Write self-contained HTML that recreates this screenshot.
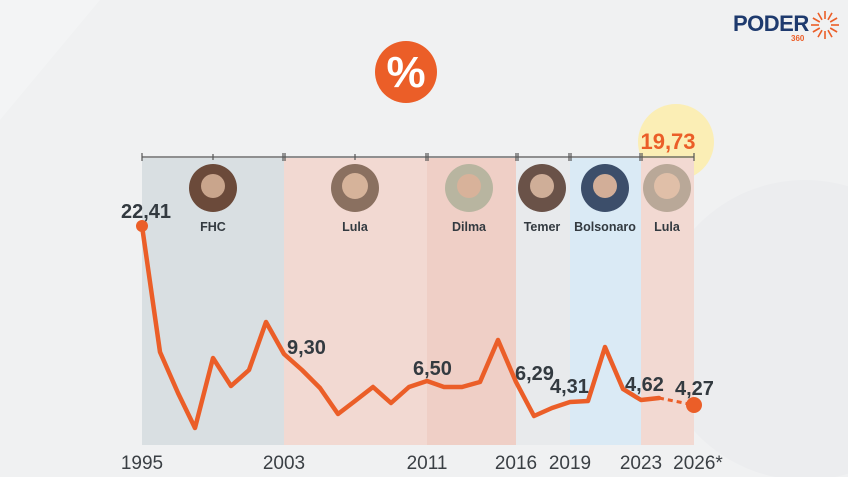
<!DOCTYPE html>
<html><head><meta charset="utf-8">
<style>
html,body{margin:0;padding:0;background:#f0f1f2;}
svg{display:block;font-family:"Liberation Sans",sans-serif;}
</style></head><body>
<svg width="848" height="477" viewBox="0 0 848 477" xmlns="http://www.w3.org/2000/svg">
<rect width="848" height="477" fill="#f0f1f2"/>
<!-- faint background shapes -->
<circle cx="805" cy="330" r="150" fill="#ecedef"/>
<path d="M0 0 L100 0 L0 120Z" fill="#f3f4f5"/>
<!-- logo -->
<text x="733" y="31" font-size="22" font-weight="bold" fill="#1e3a6e" letter-spacing="-0.5">PODER</text>
<text x="791" y="41" font-size="8" font-weight="bold" fill="#eb5e28">360</text>
<g transform="translate(825,25)" stroke="#eb5e28" stroke-width="1.6">
<line x1="6" y1="0" x2="14" y2="0"/><line x1="5.2" y1="3" x2="12.1" y2="7"/><line x1="3" y1="5.2" x2="7" y2="12.1"/>
<line x1="0" y1="6" x2="0" y2="14"/><line x1="-3" y1="5.2" x2="-7" y2="12.1"/><line x1="-5.2" y1="3" x2="-12.1" y2="7"/>
<line x1="-6" y1="0" x2="-14" y2="0"/><line x1="-5.2" y1="-3" x2="-12.1" y2="-7"/><line x1="-3" y1="-5.2" x2="-7" y2="-12.1"/>
<line x1="0" y1="-6" x2="0" y2="-14"/><line x1="3" y1="-5.2" x2="7" y2="-12.1"/><line x1="5.2" y1="-3" x2="12.1" y2="-7"/>
</g>
<!-- % circle -->
<circle cx="406" cy="72" r="31" fill="#eb5e28"/>
<text x="406" y="87" font-size="44" font-weight="bold" fill="#fff" text-anchor="middle">%</text>
<!-- yellow highlight -->
<circle cx="676" cy="142" r="38" fill="#fbeeb5"/>
<!-- bands -->
<rect x="142" y="158" width="142" height="287" fill="#d9dfe2"/>
<rect x="284" y="158" width="143" height="287" fill="#f2d9d2"/>
<rect x="427" y="158" width="89" height="287" fill="#efcfc6"/>
<rect x="516" y="158" width="54" height="287" fill="#e8eaec"/>
<rect x="570" y="158" width="71" height="287" fill="#daeaf5"/>
<rect x="641" y="158" width="53" height="287" fill="#f2d9d2"/>
<!-- top bar -->
<g stroke="#555" stroke-width="1.2">
<line x1="142" y1="157" x2="694" y2="157"/>
<line x1="142" y1="153" x2="142" y2="161"/><line x1="213" y1="154" x2="213" y2="160"/>
<line x1="283" y1="153" x2="283" y2="161"/><line x1="285" y1="153" x2="285" y2="161"/>
<line x1="355" y1="154" x2="355" y2="160"/>
<line x1="426" y1="153" x2="426" y2="161"/><line x1="428" y1="153" x2="428" y2="161"/>
<line x1="516" y1="153" x2="516" y2="161"/><line x1="518" y1="153" x2="518" y2="161"/>
<line x1="569" y1="153" x2="569" y2="161"/><line x1="571" y1="153" x2="571" y2="161"/>
<line x1="640" y1="153" x2="640" y2="161"/><line x1="642" y1="153" x2="642" y2="161"/>
<line x1="694" y1="153" x2="694" y2="161"/>
</g>
<text x="668" y="149" font-size="22" font-weight="bold" fill="#eb5e28" text-anchor="middle">19,73</text>
<!-- photos -->
<g>
<circle cx="213" cy="188" r="24" fill="#6b4a3a"/><circle cx="213" cy="186" r="12" fill="#c9a58c"/>
<circle cx="355" cy="188" r="24" fill="#8a7060"/><circle cx="355" cy="186" r="13" fill="#d6b39a"/>
<circle cx="469" cy="188" r="24" fill="#b8b5a0"/><circle cx="469" cy="186" r="12" fill="#d8b29a"/>
<circle cx="542" cy="188" r="24" fill="#6a5248"/><circle cx="542" cy="186" r="12" fill="#cfae98"/>
<circle cx="605" cy="188" r="24" fill="#3c4e6a"/><circle cx="605" cy="186" r="12" fill="#d2ae98"/>
<circle cx="667" cy="188" r="24" fill="#b9a898"/><circle cx="667" cy="186" r="13" fill="#e0bfa8"/>
</g>
<g font-size="12.5" font-weight="bold" fill="#333a40" text-anchor="middle">
<text x="213" y="231">FHC</text><text x="355" y="231">Lula</text><text x="469" y="231">Dilma</text>
<text x="542" y="231">Temer</text><text x="605" y="231">Bolsonaro</text><text x="667" y="231">Lula</text>
</g>
<!-- line -->
<polyline fill="none" stroke="#eb5e28" stroke-width="4.5" stroke-linejoin="round" stroke-linecap="round"
points="142,226 160,352 178,393 195,428 213,358 231,386 249,370 266,322 284,354 302,370 320,388 338,414 355,401 373,387 391,403 409,387 427,381 444,387 462,387 480,382 498,340 516,382 534,416 552,408 570,402 588,401 605,347 623,389 641,400 659,398"/>
<line x1="659" y1="398" x2="694" y2="405" stroke="#eb5e28" stroke-width="3" stroke-dasharray="5,4"/>
<circle cx="142" cy="226" r="6" fill="#eb5e28"/>
<circle cx="694" cy="405" r="8" fill="#eb5e28"/>
<!-- value labels -->
<g font-size="20" font-weight="bold" fill="#333a40">
<text x="121" y="218">22,41</text>
<text x="287" y="354">9,30</text>
<text x="413" y="375">6,50</text>
<text x="515" y="380">6,29</text>
<text x="550" y="393">4,31</text>
<text x="625" y="391">4,62</text>
<text x="675" y="395">4,27</text>
</g>
<!-- years -->
<g font-size="19" fill="#3a3f44" text-anchor="middle">
<text x="142" y="469">1995</text><text x="284" y="469">2003</text><text x="427" y="469">2011</text>
<text x="516" y="469">2016</text><text x="570" y="469">2019</text><text x="641" y="469">2023</text>
<text x="698" y="469">2026*</text>
</g>
</svg>
</body></html>
